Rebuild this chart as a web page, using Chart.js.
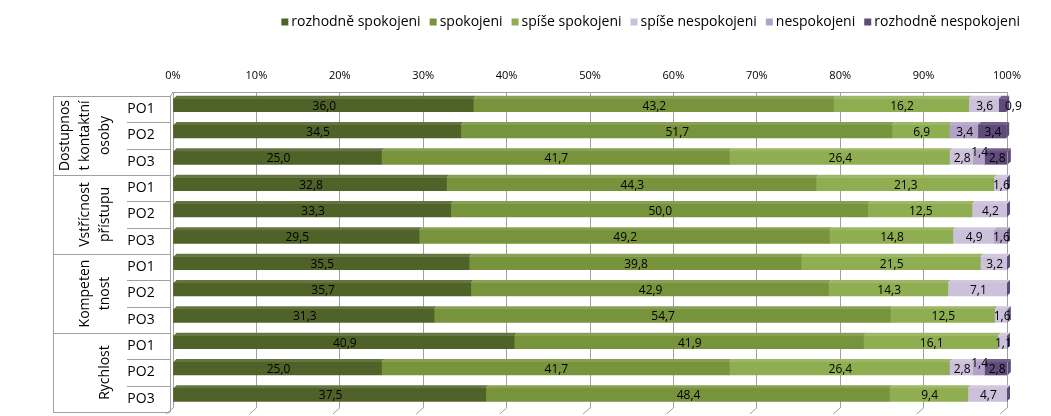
<!DOCTYPE html>
<html>
<head>
<meta charset="utf-8">
<script src="https://cdn.jsdelivr.net/npm/chart.js@4.4.1/dist/chart.umd.min.js"></script>
<style>
  html, body { margin: 0; padding: 0; background: #fff; }
  #wrap { width: 1051px; height: 416px; }
</style>
</head>
<body>
<div id="wrap"><canvas id="chart" width="1051" height="416"></canvas></div>
<script>
// categories (rows) and their groups
const categories = ['PO1', 'PO2', 'PO3', 'PO1', 'PO2', 'PO3', 'PO1', 'PO2', 'PO3', 'PO1', 'PO2', 'PO3'];
const groupLabels = [
  ['Dostupnos', 't kontaktní', 'osoby'],
  ['Vstřícnost', 'přístupu'],
  ['Kompeten', 'tnost'],
  ['Rychlost']
];
const xTicks = [0, 10, 20, 30, 40, 50, 60, 70, 80, 90, 100];

// series values (%)
const rozhodneSpokojeni   = [36.0, 34.5, 25.0, 32.8, 33.3, 29.5, 35.5, 35.7, 31.3, 40.9, 25.0, 37.5];
const spokojeni           = [43.2, 51.7, 41.7, 44.3, 50.0, 49.2, 39.8, 42.9, 54.7, 41.9, 41.7, 48.4];
const spiseSpokojeni      = [16.2, 6.9, 26.4, 21.3, 12.5, 14.8, 21.5, 14.3, 12.5, 16.1, 26.4, 9.4];
const spiseNespokojeni    = [3.6, 0, 2.8, 1.6, 4.2, 4.9, 3.2, 7.1, 1.6, 1.1, 2.8, 4.7];
const nespokojeni         = [0, 3.4, 1.4, 0, 0, 1.6, 0, 0, 0, 0, 1.4, 0];
const rozhodneNespokojeni = [0.9, 3.4, 2.8, 0, 0, 0, 0, 0, 0, 0, 2.8, 0];

const FONT = "'Open Sans', 'Noto Sans', sans-serif";
const GRID = '#a0a0a0';

function shade(hex, f) {
  const n = parseInt(hex.slice(1), 16);
  let r = n >> 16, g = (n >> 8) & 255, b = n & 255;
  if (f > 0) { r += (255 - r) * f; g += (255 - g) * f; b += (255 - b) * f; }
  else { r *= 1 + f; g *= 1 + f; b *= 1 + f; }
  return 'rgb(' + Math.round(r) + ',' + Math.round(g) + ',' + Math.round(b) + ')';
}

// 3d faces, data labels, left label table, legend
const decor = {
  id: 'decor',
  afterDatasetsDraw(chart) {
    const ctx = chart.ctx;
    const d = 3;
    const sets = chart.data.datasets;
    const metas = sets.map((ds, i) => chart.getDatasetMeta(i));
    // top faces
    metas.forEach((meta, i) => {
      const col = sets[i].backgroundColor;
      meta.data.forEach((el, j) => {
        if (!sets[i].data[j]) return;
        const top = el.y - el.height / 2;
        ctx.fillStyle = shade(col, 0.12);
        ctx.beginPath();
        ctx.moveTo(el.base, top);
        ctx.lineTo(el.base + d, top - d);
        ctx.lineTo(el.x + d, top - d);
        ctx.lineTo(el.x, top);
        ctx.closePath();
        ctx.fill();
      });
    });
    // side face of the last segment
    categories.forEach((c, j) => {
      let last = -1;
      sets.forEach((ds, i) => { if (ds.data[j]) last = i; });
      const el = metas[last].data[j];
      const top = el.y - el.height / 2, bot = el.y + el.height / 2;
      ctx.fillStyle = '#5f4b7a';
      ctx.beginPath();
      ctx.moveTo(el.x, top);
      ctx.lineTo(el.x + d, top - d);
      ctx.lineTo(el.x + d, bot - d);
      ctx.lineTo(el.x, bot);
      ctx.closePath();
      ctx.fill();
    });
    // value labels (small squeezed ones nudged like the original)
    ctx.font = '12px ' + FONT;
    ctx.fillStyle = '#000';
    ctx.textAlign = 'center';
    ctx.textBaseline = 'middle';
    metas.forEach((meta, i) => {
      meta.data.forEach((el, j) => {
        const v = sets[i].data[j];
        if (!v) return;
        let x = (el.x + el.base) / 2 + 1, y = el.y + 1;
        const hasNext = sets.slice(i + 1).some(ds => ds.data[j]);
        if (v < 2 && hasNext) y -= 6;
        if (v < 1 && !hasNext) x += 10;
        ctx.fillText(v.toFixed(1).replace('.', ','), x, y);
      });
    });
  },
  afterDraw(chart) {
    const ctx = chart.ctx;
    const area = chart.chartArea;
    const band = (area.bottom - area.top) / categories.length;
    const off = 4;
    ctx.save();
    ctx.strokeStyle = GRID;
    ctx.lineWidth = 1;
    // table lines on the left
    ctx.beginPath();
    ctx.moveTo(53.5, area.top + off);
    ctx.lineTo(53.5, area.bottom + off);
    for (let k = 0; k <= categories.length; k++) {
      const y = Math.round(area.top + off + k * band) + 0.5;
      ctx.moveTo(k % 3 === 0 ? 53 : 127, y);
      ctx.lineTo(170, y);
    }
    // y axis with 3d corner
    ctx.moveTo(170.5, area.top + off);
    ctx.lineTo(170.5, area.bottom + off);
    ctx.moveTo(170.5, area.top + off);
    ctx.lineTo(area.left, area.top);
    // floor edges under grid lines
    xTicks.forEach(t => {
      const x = chart.scales.x.getPixelForValue(t);
      ctx.moveTo(x, area.bottom);
      ctx.lineTo(x - 7, area.bottom + 6);
    });
    ctx.stroke();

    // PO labels
    ctx.fillStyle = '#000';
    ctx.font = '14px ' + FONT;
    ctx.textAlign = 'center';
    ctx.textBaseline = 'middle';
    categories.forEach((c, k) => {
      ctx.fillText(c, 141, area.top + off + (k + 0.5) * band);
    });
    // group labels, rotated
    groupLabels.forEach((lines, g) => {
      const cy = area.top + off + (g * 3 + 1.5) * band;
      lines.forEach((line, i) => {
        const x = 105 - (lines.length - 1 - i) * 20;
        ctx.save();
        ctx.translate(x, cy);
        ctx.rotate(-Math.PI / 2);
        ctx.fillText(line, 0, 0);
        ctx.restore();
      });
    });

    // legend, right aligned
    ctx.font = '14px ' + FONT;
    ctx.textAlign = 'left';
    const items = chart.data.datasets.map(ds => ({ text: ds.label, color: ds.backgroundColor }));
    const box = 7, gapBox = 3, gapItem = 9;
    let total = 0;
    items.forEach((it, i) => {
      it.w = ctx.measureText(it.text).width;
      total += box + gapBox + it.w + (i ? gapItem : 0);
    });
    let x = 1020 - total;
    const ly = 22;
    items.forEach(it => {
      ctx.fillStyle = it.color;
      ctx.fillRect(x, ly - box / 2, box, box);
      ctx.fillStyle = '#000';
      ctx.fillText(it.text, x + box + gapBox, ly);
      x += box + gapBox + it.w + gapItem;
    });
    ctx.restore();
  }
};

const colors = ['#4f6228', '#77933c', '#8fad51', '#ccc1da', '#b3a2c7', '#604a7b'];
const seriesNames = ['rozhodně spokojeni', 'spokojeni', 'spíše spokojeni', 'spíše nespokojeni', 'nespokojeni', 'rozhodně nespokojeni'];
const seriesData = [rozhodneSpokojeni, spokojeni, spiseSpokojeni, spiseNespokojeni, nespokojeni, rozhodneNespokojeni];

new Chart(document.getElementById('chart'), {
  type: 'bar',
  data: {
    labels: categories,
    datasets: seriesData.map((data, i) => ({
      label: seriesNames[i],
      data: data,
      backgroundColor: colors[i],
      borderWidth: 0,
      barThickness: 13
    }))
  },
  options: {
    indexAxis: 'y',
    responsive: false,
    animation: false,
    devicePixelRatio: 1,
    layout: { padding: { left: 0, right: 44, top: 61, bottom: 8 } },
    plugins: {
      legend: { display: false },
      tooltip: { enabled: false }
    },
    scales: {
      x: {
        position: 'top',
        stacked: true,
        min: 0,
        max: 100,
        afterBuildTicks: s => { s.ticks = xTicks.map(v => ({ value: v })); },
        afterFit: s => { s.height = 31; },
        ticks: {
          callback: v => v + '%',
          color: '#000',
          font: { family: FONT, size: 11 },
          padding: 10,
          maxRotation: 0
        },
        grid: { color: GRID, drawTicks: false },
        border: { display: true, color: GRID }
      },
      y: {
        stacked: true,
        afterFit: s => { s.width = 173; },
        ticks: { display: false },
        grid: { display: false },
        border: { display: false }
      }
    }
  },
  plugins: [decor]
});
</script>
</body>
</html>
